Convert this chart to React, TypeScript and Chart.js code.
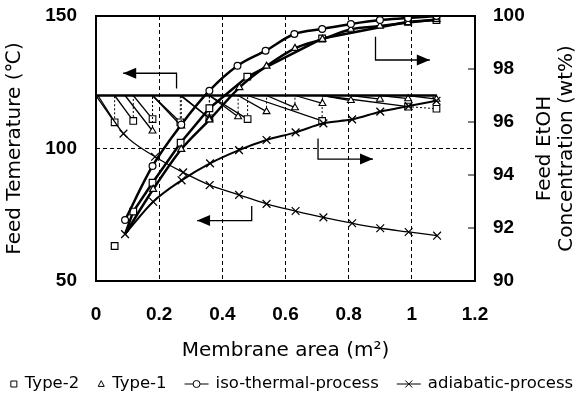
import React, { useEffect, useRef } from 'react';
import { Chart, registerables } from 'chart.js';

Chart.register(...registerables);

// ---------- axes ----------
const xTicks = [0, 0.2, 0.4, 0.6, 0.8, 1, 1.2];
const tempTicks = [50, 100, 150];
const concTicks = [90, 92, 94, 96, 98, 100];

// ---------- feed temperature (left axis, °C) ----------
const feedSetTemp = 120;
const isoTempX = [0, 1.078];
const isoTempY = [120, 120];
const adiaTempX = [0.006, 0.087, 0.187, 0.276, 0.36, 0.453, 0.54, 0.632, 0.72, 0.811, 0.9, 0.99, 1.08];
const adiaTempY = [120, 105.6, 96.9, 91.0, 86.2, 82.5, 79.1, 76.4, 74.0, 71.8, 69.9, 68.5, 67.1];
const type1TempStart = 0.092;
const type1StageX = [0.179, 0.27, 0.359, 0.45, 0.54, 0.63, 0.717, 0.807, 0.899, 0.988, 1.078];
const type1StageT = [106.6, 108.5, 111.4, 112.0, 113.9, 115.4, 117.0, 118.1, 118.6, 118.8, 118.6];
const type1Reheat = [true, true, true, true, true, true, true, true, true, true, false];
const type2TempStart = 0;
const type2StageX = [0.059, 0.118, 0.179, 0.267, 0.359, 0.48, 0.716, 0.988, 1.078];
const type2StageT = [109.9, 110.4, 111.1, 109.9, 111.4, 111.1, 110.4, 115.8, 115.0];
const type2Reheat = [true, true, true, true, true, true, true, false, false];

// ---------- feed EtOH concentration (right axis, wt%) ----------
const isoConcX = [0.092, 0.179, 0.27, 0.359, 0.448, 0.537, 0.628, 0.716, 0.807, 0.899, 0.988, 1.078];
const isoConcY = [92.3, 94.34, 95.9, 97.18, 98.12, 98.69, 99.32, 99.51, 99.7, 99.85, 99.92, 100];
const adiaConcX = [0.092, 0.181, 0.271, 0.361, 0.453, 0.54, 0.632, 0.72, 0.811, 0.9, 0.99, 1.078];
const adiaConcY = [91.77, 92.99, 93.8, 94.44, 94.94, 95.32, 95.61, 95.95, 96.1, 96.39, 96.6, 96.8];
const type1ConcX = [0.092, 0.181, 0.27, 0.359, 0.454, 0.54, 0.63, 0.717, 0.807, 0.899, 0.988, 1.078];
const type1ConcY = [91.77, 93.46, 94.97, 96.08, 97.3, 98.11, 98.78, 99.12, 99.5, 99.62, 99.75, 99.87];
const type2ConcX = [0.059, 0.092, 0.118, 0.179, 0.268, 0.359, 0.479, 0.716, 0.988, 1.078];
const type2ConcY = [91.32, 91.77, 92.62, 93.71, 95.22, 96.52, 97.71, 99.15, 99.78, 99.85];

// ---------- annotation arrows (data coords: x in m², y in °C) ----------
const arrowPaths = [
  [[0.255, 122.6], [0.255, 128.4], [0.086, 128.4]],
  [[0.885, 142.2], [0.885, 133.4], [1.057, 133.4]],
  [[0.703, 103.8], [0.703, 96.0], [0.877, 96.0]],
  [[0.493, 78.3], [0.493, 72.8], [0.32, 72.8]],
];

// ---------- legend ----------
const legendLabels = ['Type-2', 'Type-1', 'iso-thermal-process', 'adiabatic-process'];
const legendIcons = ['rect', 'triangle', 'circle', 'crossRot'];
const legendHasLine = [false, false, true, true];

const BLACK = '#000';
const WHITE = '#fff';
const NUM_FONT = "'Liberation Sans', Arial, sans-serif";
const TXT_FONT = "'DejaVu Sans', sans-serif";

const xy = (xs: number[], ys: number[]) => xs.map((x, i) => ({ x, y: ys[i] }));

function sawtooth(start: number, xs: number[], ts: number[], reheat: boolean[]) {
  const pts = [{ x: start, y: feedSetTemp }];
  xs.forEach((x, i) => {
    pts.push({ x, y: ts[i] });
    if (reheat[i]) pts.push({ x, y: feedSetTemp });
  });
  return pts;
}

// dotted for reheating (vertical) steps and for direct stage-to-stage links without reheating
const isDotted = (c: any) =>
  Math.abs(c.p0.parsed.x - c.p1.parsed.x) < 1e-9 ||
  (c.p0.parsed.y < feedSetTemp - 0.01 && c.p1.parsed.y < feedSetTemp - 0.01);

const belowSet = (c: any) => c.raw && c.raw.y < feedSetTemp - 0.01;

function drawMarker(ctx: CanvasRenderingContext2D, style: string, x: number, y: number, r: number) {
  ctx.beginPath();
  if (style === 'rect') {
    ctx.rect(x - r, y - r, 2 * r, 2 * r);
    ctx.fillStyle = WHITE; ctx.fill(); ctx.stroke();
  } else if (style === 'triangle') {
    ctx.moveTo(x, y - r * 1.1);
    ctx.lineTo(x + r, y + r * 0.8);
    ctx.lineTo(x - r, y + r * 0.8);
    ctx.closePath();
    ctx.fillStyle = WHITE; ctx.fill(); ctx.stroke();
  } else if (style === 'circle') {
    ctx.arc(x, y, r, 0, Math.PI * 2);
    ctx.fillStyle = WHITE; ctx.fill(); ctx.stroke();
  } else {
    ctx.moveTo(x - r, y - r); ctx.lineTo(x + r, y + r);
    ctx.moveTo(x + r, y - r); ctx.lineTo(x - r, y + r);
    ctx.stroke();
  }
}

const decorPlugin = {
  id: 'decor',
  afterDraw(chart: any) {
    const { ctx, chartArea: a, scales } = chart;
    const xs = scales.x, yl = scales.y, yr = scales.y1;
    ctx.save();
    ctx.strokeStyle = BLACK;
    ctx.fillStyle = BLACK;

    // frame
    ctx.lineWidth = 2;
    ctx.strokeRect(a.left, a.top, a.right - a.left, a.bottom - a.top);

    // inner ticks on the right axis
    ctx.lineWidth = 1;
    concTicks.forEach((v) => {
      if (v === concTicks[0] || v === concTicks[concTicks.length - 1]) return;
      const py = yr.getPixelForValue(v);
      ctx.beginPath();
      ctx.moveTo(a.right - 7, py);
      ctx.lineTo(a.right, py);
      ctx.stroke();
    });

    // arrows
    ctx.lineWidth = 1.3;
    arrowPaths.forEach((path) => {
      const p = path.map(([vx, vy]) => [xs.getPixelForValue(vx), yl.getPixelForValue(vy)]);
      ctx.beginPath();
      ctx.moveTo(p[0][0], p[0][1]);
      for (let i = 1; i < p.length; i++) ctx.lineTo(p[i][0], p[i][1]);
      ctx.stroke();
      const [x1, y1] = p[p.length - 2];
      const [x2, y2] = p[p.length - 1];
      const ang = Math.atan2(y2 - y1, x2 - x1);
      const L = 13, W = 5.5;
      ctx.beginPath();
      ctx.moveTo(x2, y2);
      ctx.lineTo(x2 - L * Math.cos(ang) + W * Math.sin(ang), y2 - L * Math.sin(ang) - W * Math.cos(ang));
      ctx.lineTo(x2 - L * Math.cos(ang) - W * Math.sin(ang), y2 - L * Math.sin(ang) + W * Math.cos(ang));
      ctx.closePath();
      ctx.fill();
    });

    // right axis title (reads bottom to top, two lines)
    const cy = (a.top + a.bottom) / 2;
    ctx.font = `20px ${TXT_FONT}`;
    ctx.textAlign = 'center';
    ctx.textBaseline = 'middle';
    [['Feed EtOH', 70], ['Concentration (wt%)', 92]].forEach(([t, dx]) => {
      ctx.save();
      ctx.translate(a.right + (dx as number), cy);
      ctx.rotate(-Math.PI / 2);
      ctx.fillText(t as string, 0, 0);
      ctx.restore();
    });

    // legend
    ctx.font = `16.5px ${TXT_FONT}`;
    ctx.textAlign = 'left';
    const iconGap = 7, itemGap = 18;
    const iconW = legendHasLine.map((l) => (l ? 24 : 8));
    const textW = legendLabels.map((t) => ctx.measureText(t).width);
    let total = 0;
    legendLabels.forEach((_, i) => { total += iconW[i] + iconGap + textW[i]; });
    total += itemGap * (legendLabels.length - 1);
    let x = (chart.width - total) / 2;
    const ly = chart.height - 12;
    legendLabels.forEach((t, i) => {
      ctx.lineWidth = 1;
      const cx = x + iconW[i] / 2;
      if (legendHasLine[i]) {
        ctx.beginPath();
        ctx.moveTo(x, ly);
        ctx.lineTo(x + iconW[i], ly);
        ctx.stroke();
      }
      drawMarker(ctx, legendIcons[i], cx, ly, legendHasLine[i] ? 3.5 : 3);
      ctx.fillStyle = BLACK;
      ctx.fillText(t, x + iconW[i] + iconGap, ly);
      x += iconW[i] + iconGap + textW[i] + itemGap;
    });
    ctx.restore();
  },
};

const tickFont = { family: NUM_FONT, size: 19, weight: 'bold' as const };

const noEdgePadding = (s: any) => {
  s.paddingTop = 0;
  s.paddingBottom = 0;
  s.paddingLeft = 0;
  s.paddingRight = 0;
};

function buildConfig(): any {
  return {
    type: 'line',
    data: {
      datasets: [
        {
          label: 'iso-thermal-process',
          data: xy(isoConcX, isoConcY),
          yAxisID: 'y1',
          borderColor: BLACK,
          borderWidth: 2.5,
          cubicInterpolationMode: 'monotone',
          pointStyle: 'circle',
          pointRadius: 3.4,
          pointBorderWidth: 1.2,
          pointBackgroundColor: WHITE,
          pointBorderColor: BLACK,
        },
        {
          label: 'Type-1',
          data: xy(type1ConcX, type1ConcY),
          yAxisID: 'y1',
          borderColor: BLACK,
          borderWidth: 2.5,
          cubicInterpolationMode: 'monotone',
          pointStyle: 'triangle',
          pointRadius: (c: any) => (c.dataIndex === 0 ? 0 : 4),
          pointBorderWidth: 1.2,
          pointBackgroundColor: WHITE,
          pointBorderColor: BLACK,
        },
        {
          label: 'Type-2',
          data: xy(type2ConcX, type2ConcY),
          yAxisID: 'y1',
          borderColor: BLACK,
          borderWidth: 2.5,
          pointStyle: 'rect',
          pointRadius: (c: any) => (c.dataIndex === 1 ? 0 : 4.7),
          pointBorderWidth: 1.2,
          pointBackgroundColor: WHITE,
          pointBorderColor: BLACK,
          segment: { borderColor: (c: any) => (c.p0DataIndex === 0 ? 'rgba(0,0,0,0)' : BLACK) },
        },
        {
          label: 'adiabatic-process',
          data: xy(adiaConcX, adiaConcY),
          yAxisID: 'y1',
          borderColor: BLACK,
          borderWidth: 2,
          cubicInterpolationMode: 'monotone',
          pointStyle: 'crossRot',
          pointRadius: 5.5,
          pointBorderWidth: 1.3,
          pointBackgroundColor: WHITE,
          pointBorderColor: BLACK,
        },
        {
          label: 'iso-thermal temperature',
          data: xy(isoTempX, isoTempY),
          yAxisID: 'y',
          borderColor: BLACK,
          borderWidth: 2.5,
          pointRadius: 0,
        },
        {
          label: 'adiabatic temperature',
          data: xy(adiaTempX, adiaTempY),
          yAxisID: 'y',
          borderColor: BLACK,
          borderWidth: 1.3,
          cubicInterpolationMode: 'monotone',
          pointStyle: 'crossRot',
          pointRadius: (c: any) => (c.dataIndex === 0 ? 0 : 5.5),
          pointBorderWidth: 1.2,
          pointBackgroundColor: WHITE,
          pointBorderColor: BLACK,
        },
        {
          label: 'Type-1 temperature',
          data: sawtooth(type1TempStart, type1StageX, type1StageT, type1Reheat),
          yAxisID: 'y',
          borderColor: BLACK,
          borderWidth: 1.3,
          pointStyle: 'triangle',
          pointRadius: (c: any) => (belowSet(c) ? 4 : 0),
          pointBorderWidth: 1.1,
          pointBackgroundColor: WHITE,
          pointBorderColor: BLACK,
          segment: {
            borderDash: (c: any) => (isDotted(c) ? [2, 2] : undefined),
            borderWidth: (c: any) => (isDotted(c) ? 1 : undefined),
          },
        },
        {
          label: 'Type-2 temperature',
          data: sawtooth(type2TempStart, type2StageX, type2StageT, type2Reheat),
          yAxisID: 'y',
          borderColor: BLACK,
          borderWidth: 1.3,
          pointStyle: 'rect',
          pointRadius: (c: any) => (belowSet(c) ? 4.7 : 0),
          pointBorderWidth: 1.1,
          pointBackgroundColor: WHITE,
          pointBorderColor: BLACK,
          segment: {
            borderDash: (c: any) => (isDotted(c) ? [2, 2] : undefined),
            borderWidth: (c: any) => (isDotted(c) ? 1 : undefined),
          },
        },
      ],
    },
    options: {
      animation: false,
      responsive: false,
      devicePixelRatio: 1,
      color: BLACK,
      layout: { padding: { top: 16, left: 0, right: 0, bottom: 0 } },
      plugins: {
        legend: { display: false },
        tooltip: { enabled: false },
      },
      scales: {
        x: {
          type: 'linear',
          min: xTicks[0],
          max: xTicks[xTicks.length - 1],
          afterBuildTicks: (s: any) => { s.ticks = xTicks.map((v) => ({ value: v })); },
          afterFit: (s: any) => { s.height = 115; noEdgePadding(s); },
          ticks: {
            color: BLACK,
            font: tickFont,
            padding: 22,
            maxRotation: 0,
            callback: (v: any) => String(Math.round(Number(v) * 10) / 10),
          },
          grid: {
            drawTicks: false,
            lineWidth: 1,
            color: (c: any) => (c.tick && c.tick.value > 0.01 && c.tick.value < 1.19 ? BLACK : 'rgba(0,0,0,0)'),
          },
          border: { display: false, dash: [4, 3] },
          title: {
            display: true,
            text: 'Membrane area (m²)',
            color: BLACK,
            font: { family: TXT_FONT, size: 20 },
            padding: { top: 0, bottom: 33 },
          },
        },
        y: {
          type: 'linear',
          position: 'left',
          min: tempTicks[0],
          max: tempTicks[tempTicks.length - 1],
          afterBuildTicks: (s: any) => { s.ticks = tempTicks.map((v) => ({ value: v })); },
          afterFit: (s: any) => { s.width = 96; noEdgePadding(s); },
          ticks: { color: BLACK, font: tickFont, padding: 19 },
          grid: {
            drawTicks: false,
            lineWidth: 1,
            color: (c: any) => (c.tick && c.tick.value === 100 ? BLACK : 'rgba(0,0,0,0)'),
          },
          border: { display: false, dash: [4, 3] },
          title: {
            display: true,
            text: 'Feed Temerature (℃)',
            color: BLACK,
            font: { family: TXT_FONT, size: 20 },
            padding: { top: 3, bottom: 0 },
          },
        },
        y1: {
          type: 'linear',
          position: 'right',
          min: concTicks[0],
          max: concTicks[concTicks.length - 1],
          afterBuildTicks: (s: any) => { s.ticks = concTicks.map((v) => ({ value: v })); },
          afterFit: (s: any) => { s.width = 108; noEdgePadding(s); },
          ticks: { color: BLACK, font: tickFont, padding: 18 },
          grid: { display: false, drawTicks: false },
          border: { display: false },
        },
      },
    },
    plugins: [decorPlugin],
  };
}

export default function App() {
  const ref = useRef<HTMLCanvasElement>(null);
  useEffect(() => {
    document.body.style.margin = '0';
    const chart = new Chart(ref.current as HTMLCanvasElement, buildConfig());
    return () => chart.destroy();
  }, []);
  return (
    <div style={{ width: 583, height: 396, background: '#fff' }}>
      <canvas ref={ref} width={583} height={396} style={{ display: 'block' }} />
    </div>
  );
}
